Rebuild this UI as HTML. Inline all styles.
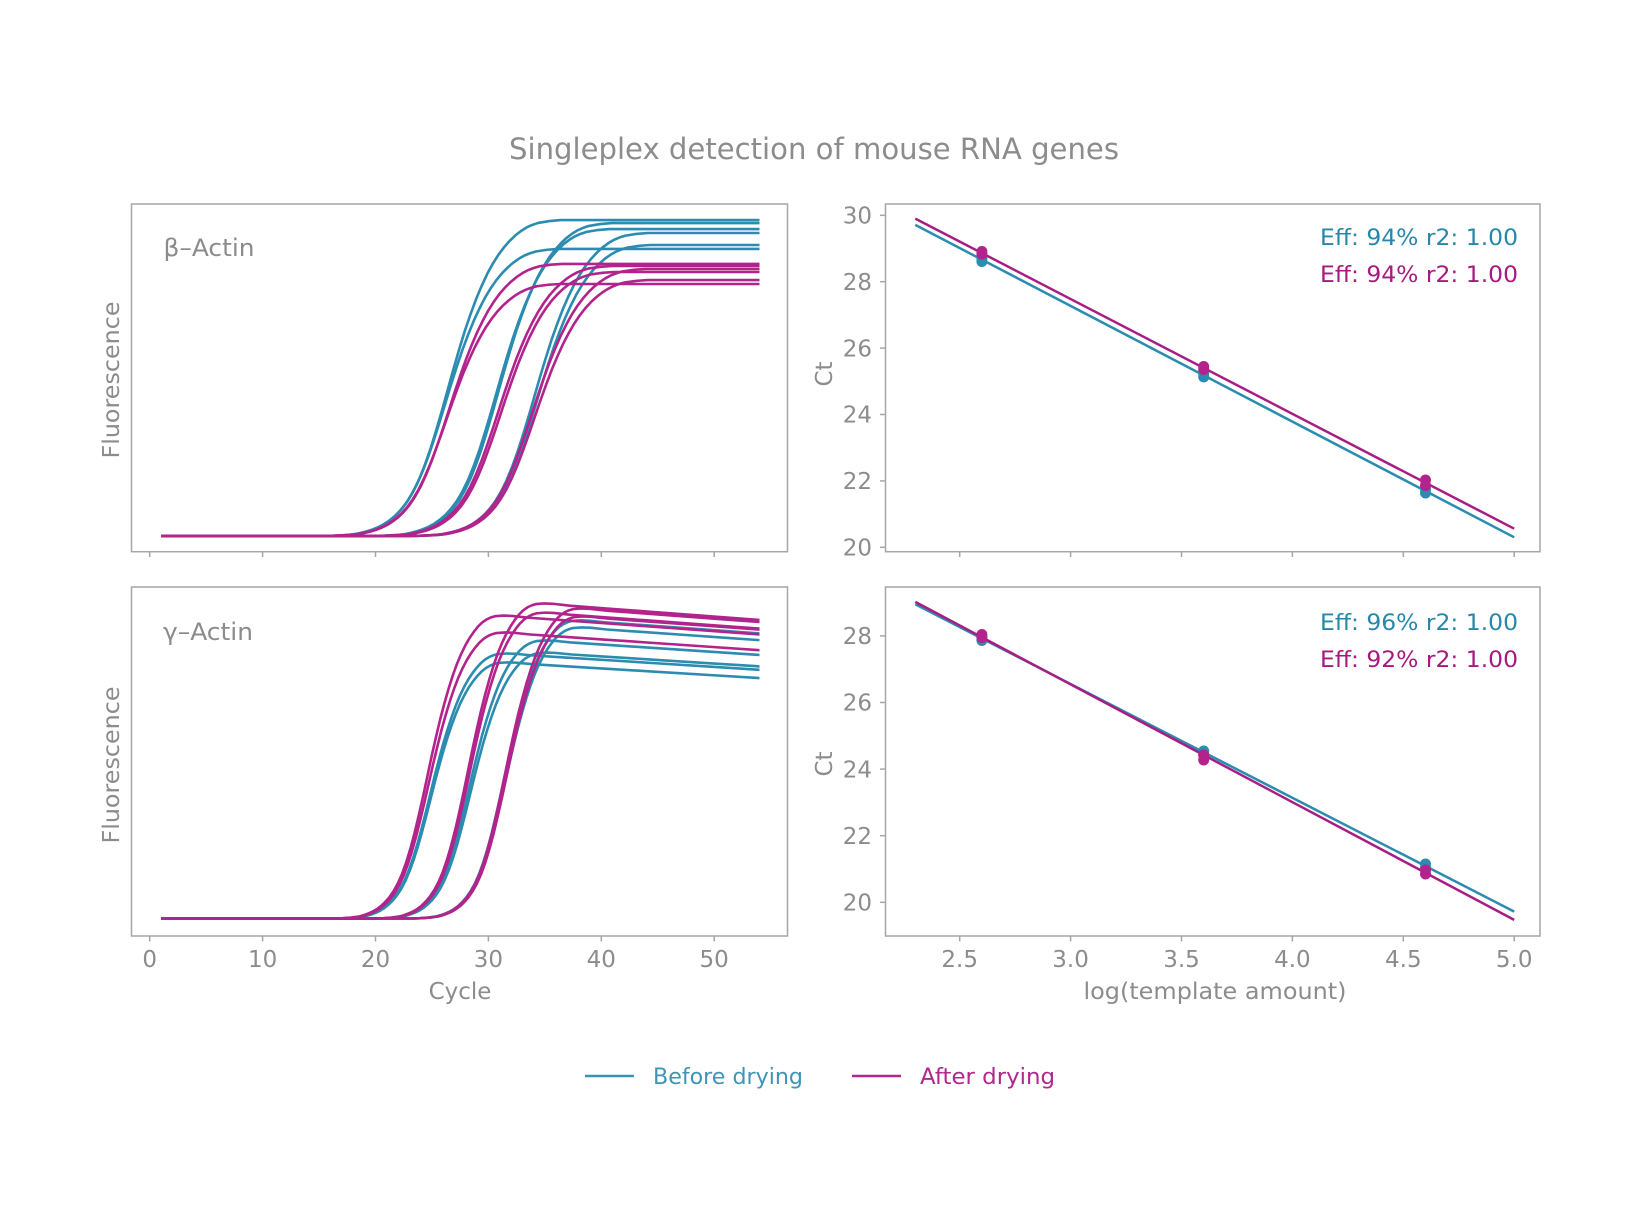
<!DOCTYPE html>
<html>
<head>
<meta charset="utf-8">
<style>
  html,body{margin:0;padding:0;background:#fff;}
  svg{display:block;}
  text{font-family:"DejaVu Sans","Liberation Sans",sans-serif;fill:#8c8c8c;}
</style>
</head>
<body>
<svg width="1640" height="1231" viewBox="0 0 1640 1231" xmlns="http://www.w3.org/2000/svg">
<defs>
  <path id="tb" vector-effect="non-scaling-stroke" d="M-451.6,0 L-124.2,0 L-112.9,-0.3 L-101.6,-0.9 L-96,-1.35 L-90.3,-2.1 L-84.7,-3.3 L-79,-4.8 L-73.4,-6.6 L-67.7,-9 L-62.1,-12 L-56.5,-15.9 L-50.8,-20.7 L-45.2,-26.7 L-39.5,-34.2 L-33.9,-43.5 L-28.2,-54.9 L-22.6,-68.4 L-16.9,-84 L-11.3,-101.4 L-5.6,-120 L0,-139.2 L5.6,-158.4 L11.3,-177 L16.9,-194.4 L22.6,-210.3 L28.2,-224.7 L33.9,-237.6 L39.5,-249 L45.2,-258.9 L50.8,-267.3 L56.5,-274.5 L62.1,-280.5 L67.7,-285.6 L73.4,-289.8 L79,-293.1 L84.7,-295.5 L90.3,-297.3 L101.6,-299.1 L112.9,-300 L451.6,-300"/>
  <path id="tg" vector-effect="non-scaling-stroke" d="M-338.7,0 L-93.2,0 L-84.7,-0.3 L-76.2,-0.9 L-67.7,-2.1 L-63.5,-3.3 L-59.3,-4.8 L-55,-6.6 L-50.8,-9 L-46.6,-12 L-42.4,-15.9 L-38.1,-20.7 L-33.9,-26.7 L-29.6,-34.2 L-25.4,-43.5 L-21.2,-54.9 L-17,-68.4 L-12.7,-84 L-8.5,-101.4 L-4.2,-120 L0,-139.2 L4.2,-158.4 L8.5,-177 L12.7,-194.4 L17,-210.3 L21.2,-224.7 L25.4,-237.6 L29.6,-249 L33.9,-258.9 L38.1,-267.3 L42.4,-274.5 L46.6,-280.5 L50.8,-285.6 L55,-289.5 L59.3,-292.4 L63.5,-294.3 L67.7,-295.5 L76.2,-296.1 L84.7,-295.8 L101.6,-294 L135.5,-291.6 L180.6,-288.4 L225.8,-285.2 L282.3,-281.2 L338.7,-277.2 L451.6,-269.2"/>
  <clipPath id="clipTop"><rect x="161" y="204" width="598.5" height="348"/></clipPath>
  <clipPath id="clipBot"><rect x="161" y="587" width="598.5" height="349"/></clipPath>
</defs>

<rect x="0" y="0" width="1640" height="1231" fill="#fff"/>

<!-- Title -->
<text x="814" y="159" text-anchor="middle" font-size="29" textLength="610" lengthAdjust="spacingAndGlyphs">Singleplex detection of mouse RNA genes</text>

<!-- ===== Frames ===== -->
<g fill="none" stroke="#a6a6a6" stroke-width="1.5">
  <rect x="131.5" y="204" width="656" height="347.7"/>
  <rect x="131.5" y="587" width="656" height="349"/>
  <rect x="885.5" y="204" width="654.5" height="347.7"/>
  <rect x="885.5" y="587" width="654.5" height="349"/>
</g>

<!-- ===== Ticks ===== -->
<g stroke="#a6a6a6" stroke-width="1.5">
  <line x1="149.7" y1="551.7" x2="149.7" y2="557"/>
  <line x1="262.6" y1="551.7" x2="262.6" y2="557"/>
  <line x1="375.5" y1="551.7" x2="375.5" y2="557"/>
  <line x1="488.4" y1="551.7" x2="488.4" y2="557"/>
  <line x1="601.3" y1="551.7" x2="601.3" y2="557"/>
  <line x1="714.2" y1="551.7" x2="714.2" y2="557"/>
  <line x1="149.7" y1="936" x2="149.7" y2="941.5"/>
  <line x1="262.6" y1="936" x2="262.6" y2="941.5"/>
  <line x1="375.5" y1="936" x2="375.5" y2="941.5"/>
  <line x1="488.4" y1="936" x2="488.4" y2="941.5"/>
  <line x1="601.3" y1="936" x2="601.3" y2="941.5"/>
  <line x1="714.2" y1="936" x2="714.2" y2="941.5"/>
  <line x1="959.7" y1="551.7" x2="959.7" y2="557"/>
  <line x1="1070.6" y1="551.7" x2="1070.6" y2="557"/>
  <line x1="1181.5" y1="551.7" x2="1181.5" y2="557"/>
  <line x1="1292.4" y1="551.7" x2="1292.4" y2="557"/>
  <line x1="1403.3" y1="551.7" x2="1403.3" y2="557"/>
  <line x1="1514.2" y1="551.7" x2="1514.2" y2="557"/>
  <line x1="959.7" y1="936" x2="959.7" y2="941.5"/>
  <line x1="1070.6" y1="936" x2="1070.6" y2="941.5"/>
  <line x1="1181.5" y1="936" x2="1181.5" y2="941.5"/>
  <line x1="1292.4" y1="936" x2="1292.4" y2="941.5"/>
  <line x1="1403.3" y1="936" x2="1403.3" y2="941.5"/>
  <line x1="1514.2" y1="936" x2="1514.2" y2="941.5"/>
  <line x1="880" y1="215.3" x2="885.5" y2="215.3"/>
  <line x1="880" y1="281.7" x2="885.5" y2="281.7"/>
  <line x1="880" y1="348.1" x2="885.5" y2="348.1"/>
  <line x1="880" y1="414.5" x2="885.5" y2="414.5"/>
  <line x1="880" y1="480.9" x2="885.5" y2="480.9"/>
  <line x1="880" y1="547.3" x2="885.5" y2="547.3"/>
  <line x1="880" y1="635.9" x2="885.5" y2="635.9"/>
  <line x1="880" y1="702.5" x2="885.5" y2="702.5"/>
  <line x1="880" y1="769.1" x2="885.5" y2="769.1"/>
  <line x1="880" y1="835.7" x2="885.5" y2="835.7"/>
  <line x1="880" y1="902.3" x2="885.5" y2="902.3"/>
</g>

<!-- ===== Tick labels ===== -->
<g font-size="23" text-anchor="middle">
  <text x="149.7" y="967">0</text>
  <text x="262.6" y="967">10</text>
  <text x="375.5" y="967">20</text>
  <text x="488.4" y="967">30</text>
  <text x="601.3" y="967">40</text>
  <text x="714.2" y="967">50</text>
  <text x="959.7" y="967">2.5</text>
  <text x="1070.6" y="967">3.0</text>
  <text x="1181.5" y="967">3.5</text>
  <text x="1292.4" y="967">4.0</text>
  <text x="1403.3" y="967">4.5</text>
  <text x="1514.2" y="967">5.0</text>
</g>
<g font-size="23" text-anchor="end">
  <text x="872" y="223.5">30</text>
  <text x="872" y="289.9">28</text>
  <text x="872" y="356.3">26</text>
  <text x="872" y="422.7">24</text>
  <text x="872" y="489.1">22</text>
  <text x="872" y="555.5">20</text>
  <text x="872" y="644.1">28</text>
  <text x="872" y="710.7">26</text>
  <text x="872" y="777.3">24</text>
  <text x="872" y="843.9">22</text>
  <text x="872" y="910.5">20</text>
</g>

<!-- ===== Axis labels ===== -->
<text x="460" y="999" text-anchor="middle" font-size="23">Cycle</text>
<text x="1215" y="999" text-anchor="middle" font-size="23" textLength="263" lengthAdjust="spacingAndGlyphs">log(template amount)</text>
<text transform="translate(119,380) rotate(-90)" text-anchor="middle" font-size="23" textLength="157" lengthAdjust="spacingAndGlyphs">Fluorescence</text>
<text transform="translate(119,765) rotate(-90)" text-anchor="middle" font-size="23" textLength="157" lengthAdjust="spacingAndGlyphs">Fluorescence</text>
<text transform="translate(832,374) rotate(-90)" text-anchor="middle" font-size="23">Ct</text>
<text transform="translate(832,764) rotate(-90)" text-anchor="middle" font-size="23">Ct</text>

<!-- Panel labels -->
<text x="163.5" y="256" font-size="24" textLength="91" lengthAdjust="spacingAndGlyphs">β–Actin</text>
<text x="163" y="640" font-size="24" textLength="90" lengthAdjust="spacingAndGlyphs">γ–Actin</text>

<!-- ===== β-Actin amplification curves ===== -->
<g clip-path="url(#clipTop)" fill="none" stroke-width="2.6" stroke-linejoin="round">
  <g stroke="#2b8cb0">
    <use href="#tb" transform="translate(447.8,536) scale(1,1.053)"/>
    <use href="#tb" transform="translate(445.5,536) scale(1,0.957)"/>
    <use href="#tb" transform="translate(498.6,536) scale(1,1.043)"/>
    <use href="#tb" transform="translate(496.3,536) scale(1,1.023)"/>
    <use href="#tb" transform="translate(534.7,536) scale(1,1.010)"/>
    <use href="#tb" transform="translate(536.9,536) scale(1,0.970)"/>
  </g>
  <g stroke="#b2238c">
    <use href="#tb" transform="translate(449.0,536) scale(1,0.907)"/>
    <use href="#tb" transform="translate(446.6,536) scale(1,0.840)"/>
    <use href="#tb" transform="translate(498.6,536) scale(1,0.900)"/>
    <use href="#tb" transform="translate(500.8,536) scale(1,0.880)"/>
    <use href="#tb" transform="translate(532.4,536) scale(1,0.890)"/>
    <use href="#tb" transform="translate(534.7,536) scale(1,0.853)"/>
  </g>
</g>

<!-- ===== γ-Actin amplification curves ===== -->
<g clip-path="url(#clipBot)" fill="none" stroke-width="2.6" stroke-linejoin="round">
  <g stroke="#2b8cb0">
    <use href="#tg" transform="translate(430.3,918.5) scale(1,0.895)"/>
    <use href="#tg" transform="translate(430.8,918.5) scale(1,0.865)"/>
    <use href="#tg" transform="translate(469.2,918.5) scale(1,0.939)"/>
    <use href="#tg" transform="translate(470.3,918.5) scale(1,0.898)"/>
    <use href="#tg" transform="translate(504.2,918.5) scale(1,1.007)"/>
    <use href="#tg" transform="translate(505.3,918.5) scale(1,0.983)"/>
  </g>
  <g stroke="#b2238c">
    <use href="#tg" transform="translate(427.4,918.5) scale(1,1.023)"/>
    <use href="#tg" transform="translate(428.6,918.5) scale(1,0.966)"/>
    <use href="#tg" transform="translate(468.1,918.5) scale(1,1.064)"/>
    <use href="#tg" transform="translate(469.2,918.5) scale(1,1.033)"/>
    <use href="#tg" transform="translate(505.3,918.5) scale(1,1.047)"/>
    <use href="#tg" transform="translate(506.5,918.5) scale(1,1.020)"/>
  </g>
</g>

<!-- ===== Standard curves top (β-Actin) ===== -->
<g stroke-width="2.5">
  <line x1="915.3" y1="224.9" x2="1514.2" y2="537.3" stroke="#2b8cb0"/>
  <g fill="#2b8cb0">
    <circle cx="981.9" cy="258.5" r="5.5"/><circle cx="981.9" cy="261.5" r="5.5"/>
    <circle cx="1203.7" cy="373.5" r="5.5"/><circle cx="1203.7" cy="377" r="5.5"/>
    <circle cx="1425.5" cy="489" r="5.5"/><circle cx="1425.5" cy="493" r="5.5"/>
  </g>
  <line x1="915.3" y1="218.6" x2="1514.2" y2="528.7" stroke="#a81d84"/>
  <g fill="#b2238c">
    <circle cx="981.9" cy="251.5" r="5.5"/><circle cx="981.9" cy="254" r="5.5"/>
    <circle cx="1203.7" cy="366.5" r="5.5"/><circle cx="1203.7" cy="369.5" r="5.5"/>
    <circle cx="1425.5" cy="480" r="5.5"/><circle cx="1425.5" cy="485.5" r="5.5"/>
  </g>
</g>

<!-- ===== Standard curves bottom (γ-Actin) ===== -->
<g stroke-width="2.5">
  <line x1="915.3" y1="604.3" x2="1514.2" y2="911.6" stroke="#2b8cb0"/>
  <g fill="#2b8cb0">
    <circle cx="981.9" cy="637" r="5.5"/><circle cx="981.9" cy="640.5" r="5.5"/>
    <circle cx="1203.7" cy="751" r="5.5"/><circle cx="1203.7" cy="755" r="5.5"/>
    <circle cx="1425.5" cy="864" r="5.5"/><circle cx="1425.5" cy="868" r="5.5"/>
  </g>
  <line x1="915.3" y1="601.9" x2="1514.2" y2="919.9" stroke="#a81d84"/>
  <g fill="#b2238c">
    <circle cx="981.9" cy="634.5" r="5.5"/><circle cx="981.9" cy="637.5" r="5.5"/>
    <circle cx="1203.7" cy="755" r="5.5"/><circle cx="1203.7" cy="760" r="5.5"/>
    <circle cx="1425.5" cy="870" r="5.5"/><circle cx="1425.5" cy="874" r="5.5"/>
  </g>
</g>

<!-- ===== Annotations ===== -->
<g font-size="22" text-anchor="end">
  <text x="1518" y="245" style="fill:#2588ab" textLength="198" lengthAdjust="spacingAndGlyphs">Eff: 94% r2: 1.00</text>
  <text x="1518" y="282" style="fill:#a8197f" textLength="198" lengthAdjust="spacingAndGlyphs">Eff: 94% r2: 1.00</text>
  <text x="1518" y="630" style="fill:#2588ab" textLength="198" lengthAdjust="spacingAndGlyphs">Eff: 96% r2: 1.00</text>
  <text x="1518" y="667" style="fill:#a8197f" textLength="198" lengthAdjust="spacingAndGlyphs">Eff: 92% r2: 1.00</text>
</g>

<!-- ===== Legend ===== -->
<line x1="585" y1="1076" x2="634" y2="1076" stroke="#3a93b5" stroke-width="2.5"/>
<text x="653" y="1084" font-size="22" style="fill:#3f95b6" textLength="150" lengthAdjust="spacingAndGlyphs">Before drying</text>
<line x1="852" y1="1076" x2="901" y2="1076" stroke="#b2288c" stroke-width="2.5"/>
<text x="920" y="1084" font-size="22" style="fill:#b0288c" textLength="135" lengthAdjust="spacingAndGlyphs">After drying</text>
</svg>
</body>
</html>
